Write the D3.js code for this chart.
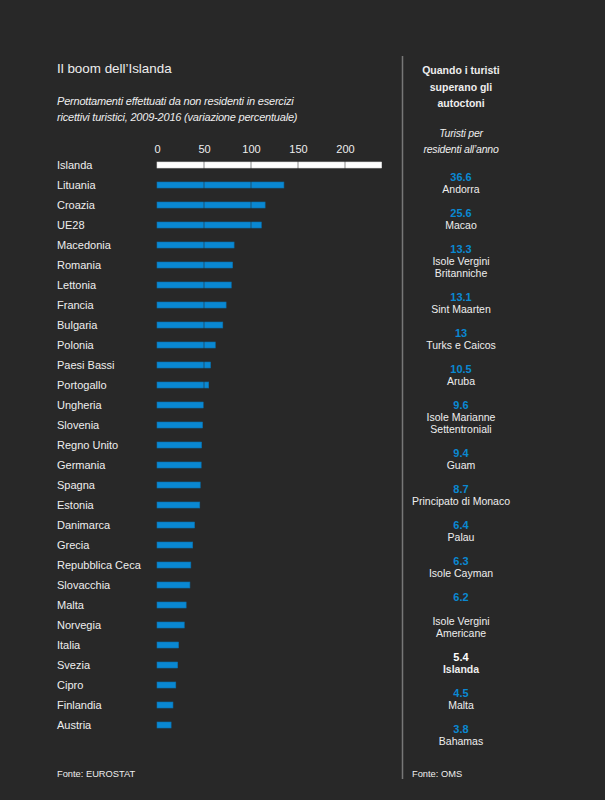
<!DOCTYPE html>
<html>
<head>
<meta charset="utf-8">
<script src="https://cdn.jsdelivr.net/npm/d3@7"></script>
<style>
  html, body { margin: 0; padding: 0; background: #282828; }
  svg text { font-family: "Liberation Sans", Arial, sans-serif; }
</style>
</head>
<body>
<script>
// ---- Data ----
const countries = ["Islanda","Lituania","Croazia","UE28","Macedonia","Romania","Lettonia","Francia","Bulgaria","Polonia","Paesi Bassi","Portogallo","Ungheria","Slovenia","Regno Unito","Germania","Spagna","Estonia","Danimarca","Grecia","Repubblica Ceca","Slovacchia","Malta","Norvegia","Italia","Svezia","Cipro","Finlandia","Austria"];
const growth = [239, 135, 115, 111, 82, 80.5, 79, 73.5, 70, 62, 57, 55, 49.5, 48.5, 47.5, 47, 46, 45.5, 40, 38, 36, 35, 31, 29, 23, 22, 20, 17, 15];
const tickValues = [0, 50, 100, 150, 200];

const places = ["Andorra","Macao","Isole Vergini|Britanniche","Sint Maarten","Turks e Caicos","Aruba","Isole Marianne|Settentroniali","Guam","Principato di Monaco","Palau","Isole Cayman","|Isole Vergini|Americane","Islanda","Malta","Bahamas"];
const touristsPerResident = [36.6, 25.6, 13.3, 13.1, 13, 10.5, 9.6, 9.4, 8.7, 6.4, 6.3, 6.2, 5.4, 4.5, 3.8];

const title = "Il boom dell\u2019Islanda";
const subtitle = ["Pernottamenti effettuati da non residenti in esercizi", "ricettivi turistici, 2009-2016 (variazione percentuale)"];
const panelTitle = ["Quando i turisti", "superano gli", "autoctoni"];
const panelSub = ["Turisti per", "residenti all\u2019anno"];

// ---- Setup ----
const W = 605, H = 800;
const BLUE = "#0a88d2", TEXT = "#eeeeee";
const svg = d3.select("body").append("svg").attr("width", W).attr("height", H);
svg.append("rect").attr("width", W).attr("height", H).attr("fill", "#282828");

// Title & subtitle
svg.append("text").attr("x", 57).attr("y", 73).attr("fill", TEXT)
  .attr("font-size", 13.4).text(title);
svg.selectAll(".sub").data(subtitle).join("text")
  .attr("x", 57).attr("y", (d, i) => 105 + i * 16)
  .attr("fill", TEXT).attr("font-size", 11).attr("font-style", "italic")
  .attr("letter-spacing", -0.2).text(d => d);

// Scales
const x = d3.scaleLinear().domain([0, 200]).range([157, 345]);
const y = d3.scaleBand().domain(countries).range([155, 155 + 20 * countries.length]).paddingInner(0.7).paddingOuter(0.35);

// Axis (top)
const axis = d3.axisTop(x).tickValues(tickValues).tickSize(0).tickPadding(0);
const gAxis = svg.append("g").attr("transform", "translate(0,153)").call(axis);
gAxis.select(".domain").remove();
gAxis.selectAll("text").attr("fill", TEXT).attr("font-size", 11)
  .attr("font-family", "Liberation Sans, Arial, sans-serif").attr("dy", 0);

// Row labels
svg.selectAll(".lab").data(countries).join("text")
  .attr("x", 57).attr("y", d => y(d) + y.bandwidth() / 2 + 4)
  .attr("fill", TEXT).attr("font-size", 11).text(d => d);

// Bars
svg.selectAll(".bar").data(countries).join("rect")
  .attr("x", x(0)).attr("y", d => y(d))
  .attr("width", (d, i) => x(growth[i]) - x(0))
  .attr("height", y.bandwidth())
  .attr("fill", (d, i) => i === 0 ? "#ffffff" : BLUE)
  .attr("stroke", (d, i) => i === 0 ? "#dddddd" : "#0870ad")
  .attr("stroke-width", 0.6);

// Grid lines over bars
svg.selectAll(".grid").data(tickValues.slice(1)).join("line")
  .attr("x1", d => x(d)).attr("x2", d => x(d))
  .attr("y1", y.range()[0]).attr("y2", y.range()[1])
  .attr("stroke", "#282828").attr("stroke-opacity", 0.55).attr("stroke-width", 1);

// Source left
svg.append("text").attr("x", 57).attr("y", 777).attr("fill", TEXT)
  .attr("font-size", 9.3).text("Fonte: EUROSTAT");

// ---- Right panel ----
const cx = 461;
svg.append("line").attr("x1", 402.5).attr("x2", 402.5).attr("y1", 56).attr("y2", 779)
  .attr("stroke", "#777777").attr("stroke-width", 1.5);

svg.selectAll(".pt").data(panelTitle).join("text")
  .attr("x", cx).attr("y", (d, i) => 74 + i * 16.5).attr("text-anchor", "middle")
  .attr("fill", TEXT).attr("font-size", 10.5).attr("font-weight", "bold").text(d => d);
svg.selectAll(".ps").data(panelSub).join("text")
  .attr("x", cx).attr("y", (d, i) => 137 + i * 16).attr("text-anchor", "middle")
  .attr("fill", TEXT).attr("font-size", 10.5).attr("font-style", "italic")
  .attr("letter-spacing", -0.2).text(d => d);

let cy = 177;
places.forEach((p, i) => {
  const lines = p.split("|");
  const isIce = p === "Islanda";
  svg.append("text").attr("x", cx).attr("y", cy + 4).attr("text-anchor", "middle")
    .attr("fill", isIce ? "#ffffff" : BLUE).attr("font-size", 11).attr("font-weight", "bold")
    .text(touristsPerResident[i]);
  lines.forEach((l, j) => {
    svg.append("text").attr("x", cx).attr("y", cy + 12 * (j + 1) + 4).attr("text-anchor", "middle")
      .attr("fill", TEXT).attr("font-size", 10.5).attr("font-weight", isIce ? "bold" : "normal")
      .text(l);
  });
  cy += 12 * (lines.length + 1) + 12;
});

svg.append("text").attr("x", 412).attr("y", 777).attr("fill", TEXT)
  .attr("font-size", 9.3).text("Fonte: OMS");
</script>
</body>
</html>
